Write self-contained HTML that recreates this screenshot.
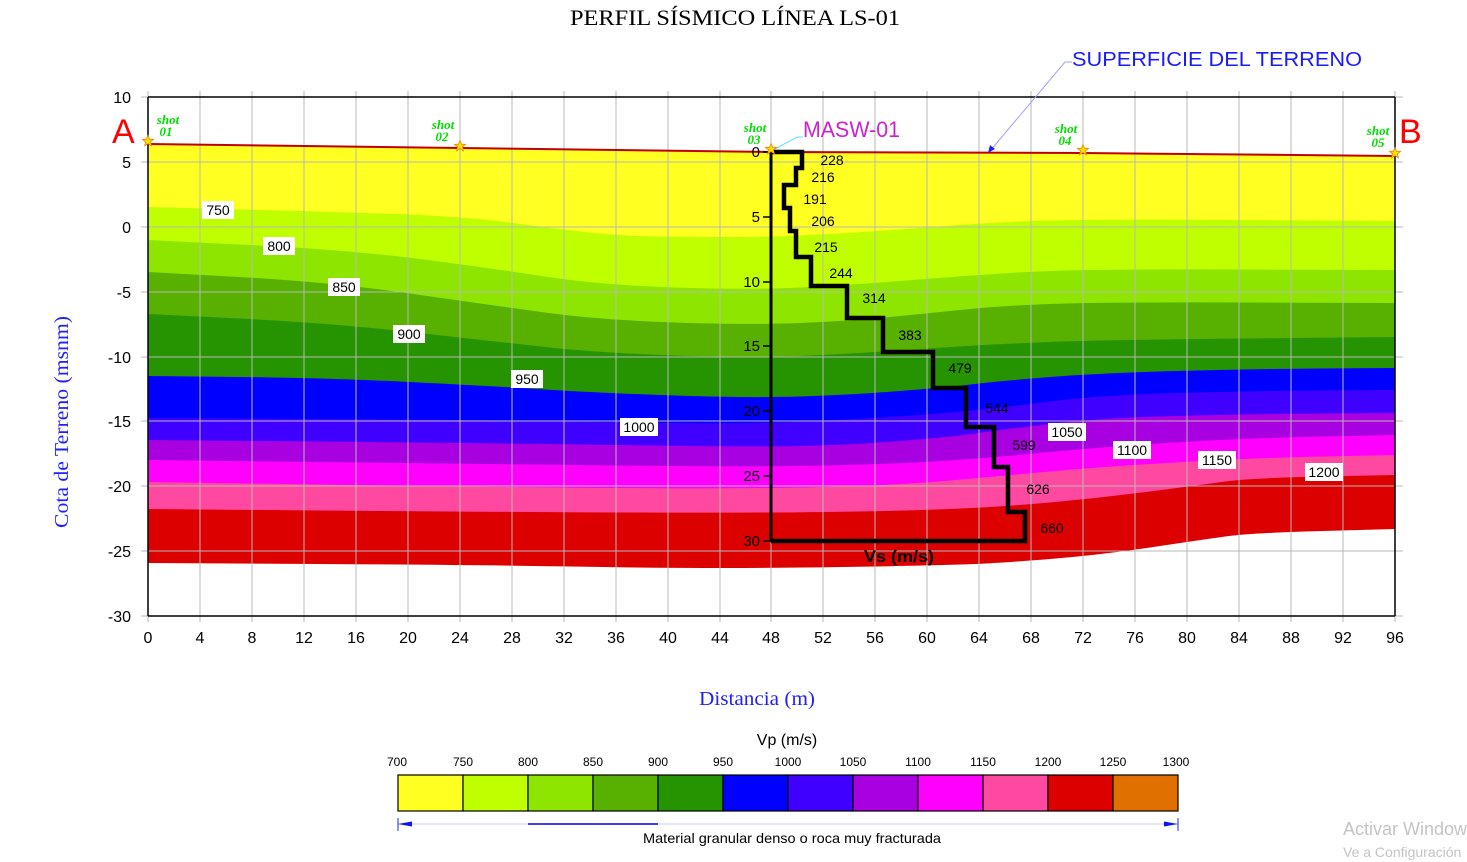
<!DOCTYPE html>
<html><head><meta charset="utf-8"><style>
html,body{margin:0;padding:0;background:#fff;}
svg{display:block;}
text{font-family:"Liberation Sans",Arial,sans-serif;}
text.serif{font-family:"Liberation Serif","Times New Roman",serif;}
.tk text{font-size:16px;fill:#000;}
.lb{font-size:14px;fill:#000;}
.cb text{font-size:12px;fill:#000;}
.shot text{font-family:"Liberation Serif","Times New Roman",serif;font-style:italic;font-weight:bold;font-size:13px;fill:#00e000;}
</style></head><body>
<svg width="1467" height="862" viewBox="0 0 1467 862" xmlns="http://www.w3.org/2000/svg">
<rect width="1467" height="862" fill="#fff"/>

<!-- Title -->
<text class="serif" x="735" y="25" font-size="22" text-anchor="middle" textLength="330" lengthAdjust="spacingAndGlyphs">PERFIL SÍSMICO LÍNEA LS-01</text>

<!-- layers (painter order deep -> shallow) -->
<g stroke="none">
<path fill="#DD0000" d="M148,144 L460,148 L771,152 L1083,153 L1395,156 L1395,529 L1322.5,531 Q1250,533 1225,536.5 Q1200,540 1150,547.5 Q1100,555 1050,559 Q1000,563 975,564 Q950,565 875,566.5 Q800,568 725,568 Q650,568 570,566.5 Q490,565 319,564 L148,563 Z"/>
<path fill="#FF48A0" d="M148,144 L460,148 L771,152 L1083,153 L1395,156 L1395,475 L1322.5,476.5 Q1250,478 1225,481.5 Q1200,485 1150,491.5 Q1100,498 1050,502.5 Q1000,507 950,509 Q900,511 825,512 Q750,513 620,512.5 Q490,512 319,510.5 L148,509 Z"/>
<path fill="#FF00FF" d="M148,144 L460,148 L771,152 L1083,153 L1395,156 L1395,455 L1322.5,456.5 Q1250,458 1175,462.5 Q1100,467 1050,471.5 Q1000,476 950,480.5 Q900,485 825,487 Q750,489 620,488 Q490,487 319,484.5 L148,482 Z"/>
<path fill="#A800E0" d="M148,144 L460,148 L771,152 L1083,153 L1395,156 L1395,435 L1322.5,436.5 Q1250,438 1175,442.5 Q1100,447 1050,452 Q1000,457 950,460.5 Q900,464 825,465.5 Q750,467 620,465.5 Q490,464 319,462 L148,460 Z"/>
<path fill="#4000FF" d="M148,144 L460,148 L771,152 L1083,153 L1395,156 L1395,413 L1322.5,413.5 Q1250,414 1175,416 Q1100,418 1050,424 Q1000,430 975,433.5 Q950,437 900,441 Q850,445 800,446 Q750,447 620,445 Q490,443 319,441.5 L148,440 Z"/>
<path fill="#0000FF" d="M148,144 L460,148 L771,152 L1083,153 L1395,156 L1395,390 L1322.5,390.5 Q1250,391 1175,393 Q1100,395 1050,401.5 Q1000,408 950,412.5 Q900,417 825,420.5 Q750,424 675,423 Q600,422 545,421 Q490,420 319,419 L148,418 Z"/>
<path fill="#259400" d="M148,144 L460,148 L771,152 L1083,153 L1395,156 L1395,368 L1322.5,368.5 Q1250,369 1175,371 Q1100,373 1050,377 Q1000,381 975,384 Q950,387 900,391 Q850,395 800,396.5 Q750,398 675,395.5 Q600,393 545,389.5 Q490,386 410,382 Q330,378 239,377 L148,376 Z"/>
<path fill="#58B000" d="M148,144 L460,148 L771,152 L1083,153 L1395,156 L1395,337 L1247.5,338.5 Q1100,340 1050,342 Q1000,344 975,345.5 Q950,347 900,350.5 Q850,354 800,356 Q750,358 675,355.5 Q600,353 545,347 Q490,341 410,332 Q330,323 239,318.5 L148,314 Z"/>
<path fill="#8EE600" d="M148,144 L460,148 L771,152 L1083,153 L1395,156 L1395,303 L1247.5,302.5 Q1100,302 1050,304 Q1000,306 975,308.5 Q950,311 900,316 Q850,321 800,323 Q750,325 675,322.5 Q600,320 545,312.5 Q490,305 410,293.5 Q330,282 239,277 L148,272 Z"/>
<path fill="#C0FF00" d="M148,144 L460,148 L771,152 L1083,153 L1395,156 L1395,270 L1247.5,269.5 Q1100,269 1050,271 Q1000,273 925,279 Q850,285 800,287.5 Q750,290 675,287.5 Q600,285 545,276.5 Q490,268 420,259 Q350,250 249,245 L148,240 Z"/>
<path fill="#FFFF22" d="M148,144 L460,148 L771,152 L1083,153 L1395,156 L1395,221 L1247.5,220 Q1100,219 1050,220.5 Q1000,222 960,225 Q920,228 885,230.5 Q850,233 810.5,235 Q771,237 735.5,237 Q700,237 660,236.5 Q620,236 585,232 Q550,228 505,222 Q460,216 380,213.5 Q300,211 224,209 L148,207 Z"/>
</g>

<!-- grid -->
<g stroke="#b8b8b8" stroke-width="1">
<line x1="200" y1="97" x2="200" y2="622"/><line x1="252" y1="97" x2="252" y2="622"/><line x1="304" y1="97" x2="304" y2="622"/><line x1="356" y1="97" x2="356" y2="622"/><line x1="408" y1="97" x2="408" y2="622"/><line x1="460" y1="97" x2="460" y2="622"/><line x1="512" y1="97" x2="512" y2="622"/><line x1="564" y1="97" x2="564" y2="622"/><line x1="616" y1="97" x2="616" y2="622"/><line x1="668" y1="97" x2="668" y2="622"/><line x1="720" y1="97" x2="720" y2="622"/><line x1="771" y1="97" x2="771" y2="622"/><line x1="823" y1="97" x2="823" y2="622"/><line x1="875" y1="97" x2="875" y2="622"/><line x1="927" y1="97" x2="927" y2="622"/><line x1="979" y1="97" x2="979" y2="622"/><line x1="1031" y1="97" x2="1031" y2="622"/><line x1="1083" y1="97" x2="1083" y2="622"/><line x1="1135" y1="97" x2="1135" y2="622"/><line x1="1187" y1="97" x2="1187" y2="622"/><line x1="1239" y1="97" x2="1239" y2="622"/><line x1="1291" y1="97" x2="1291" y2="622"/><line x1="1343" y1="97" x2="1343" y2="622"/>
<line x1="148" y1="622" x2="148" y2="616"/><line x1="1395" y1="622" x2="1395" y2="616"/>
<line x1="141" y1="162" x2="1403" y2="162"/><line x1="141" y1="227" x2="1403" y2="227"/><line x1="141" y1="292" x2="1403" y2="292"/><line x1="141" y1="357" x2="1403" y2="357"/><line x1="141" y1="421" x2="1403" y2="421"/><line x1="141" y1="486" x2="1403" y2="486"/><line x1="141" y1="551" x2="1403" y2="551"/>
<line x1="141" y1="97" x2="148" y2="97"/><line x1="141" y1="616" x2="148" y2="616"/><line x1="1395" y1="97" x2="1403" y2="97"/><line x1="1395" y1="616" x2="1403" y2="616"/>
</g>
<!-- top tick marks -->
<g stroke="#b8b8b8" stroke-width="1">
<line x1="148" y1="91" x2="148" y2="97"/><line x1="200" y1="91" x2="200" y2="97"/><line x1="252" y1="91" x2="252" y2="97"/><line x1="304" y1="91" x2="304" y2="97"/><line x1="356" y1="91" x2="356" y2="97"/><line x1="408" y1="91" x2="408" y2="97"/><line x1="460" y1="91" x2="460" y2="97"/><line x1="512" y1="91" x2="512" y2="97"/><line x1="564" y1="91" x2="564" y2="97"/><line x1="616" y1="91" x2="616" y2="97"/><line x1="668" y1="91" x2="668" y2="97"/><line x1="720" y1="91" x2="720" y2="97"/><line x1="771" y1="91" x2="771" y2="97"/><line x1="823" y1="91" x2="823" y2="97"/><line x1="875" y1="91" x2="875" y2="97"/><line x1="927" y1="91" x2="927" y2="97"/><line x1="979" y1="91" x2="979" y2="97"/><line x1="1031" y1="91" x2="1031" y2="97"/><line x1="1083" y1="91" x2="1083" y2="97"/><line x1="1135" y1="91" x2="1135" y2="97"/><line x1="1187" y1="91" x2="1187" y2="97"/><line x1="1239" y1="91" x2="1239" y2="97"/><line x1="1291" y1="91" x2="1291" y2="97"/><line x1="1343" y1="91" x2="1343" y2="97"/><line x1="1395" y1="91" x2="1395" y2="97"/>
</g>

<!-- axes frame -->
<g stroke="#000" stroke-width="1.5" fill="none">
<line x1="148" y1="97" x2="1395" y2="97"/>
<line x1="148" y1="616" x2="1395" y2="616"/>
<line x1="148" y1="97" x2="148" y2="616"/>
<line x1="1395" y1="97" x2="1395" y2="616"/>
</g>

<!-- terrain surface -->
<polyline points="148,144 460,148 771,152 1083,153 1395,156" fill="none" stroke="#c00000" stroke-width="2"/>

<!-- y tick labels -->
<g class="tk" text-anchor="end">
<text x="131" y="103">10</text><text x="131" y="168">5</text><text x="131" y="233">0</text><text x="131" y="298">-5</text><text x="131" y="363">-10</text><text x="131" y="427">-15</text><text x="131" y="492">-20</text><text x="131" y="557">-25</text><text x="131" y="622">-30</text>
</g>
<!-- x tick labels -->
<g class="tk" text-anchor="middle">
<text x="148" y="643">0</text><text x="200" y="643">4</text><text x="252" y="643">8</text><text x="304" y="643">12</text><text x="356" y="643">16</text><text x="408" y="643">20</text><text x="460" y="643">24</text><text x="512" y="643">28</text><text x="564" y="643">32</text><text x="616" y="643">36</text><text x="668" y="643">40</text><text x="720" y="643">44</text><text x="771" y="643">48</text><text x="823" y="643">52</text><text x="875" y="643">56</text><text x="927" y="643">60</text><text x="979" y="643">64</text><text x="1031" y="643">68</text><text x="1083" y="643">72</text><text x="1135" y="643">76</text><text x="1187" y="643">80</text><text x="1239" y="643">84</text><text x="1291" y="643">88</text><text x="1343" y="643">92</text><text x="1395" y="643">96</text>
</g>

<!-- axis titles -->
<text class="serif" x="757" y="705" font-size="20" fill="#2020ff" text-anchor="middle" textLength="116" lengthAdjust="spacingAndGlyphs">Distancia (m)</text>
<text class="serif" transform="translate(68,422) rotate(-90)" font-size="20" fill="#2020ff" text-anchor="middle" textLength="212" lengthAdjust="spacingAndGlyphs">Cota de Terreno (msnm)</text>

<!-- contour labels -->
<g>
<rect x="202" y="201" width="32" height="18" fill="#fff"/><text class="lb" x="218" y="215" text-anchor="middle">750</text>
<rect x="263" y="237" width="32" height="18" fill="#fff"/><text class="lb" x="279" y="251" text-anchor="middle">800</text>
<rect x="328" y="278" width="32" height="18" fill="#fff"/><text class="lb" x="344" y="292" text-anchor="middle">850</text>
<rect x="393" y="325" width="32" height="18" fill="#fff"/><text class="lb" x="409" y="339" text-anchor="middle">900</text>
<rect x="511" y="370" width="32" height="18" fill="#fff"/><text class="lb" x="527" y="384" text-anchor="middle">950</text>
<rect x="620" y="418" width="38" height="18" fill="#fff"/><text class="lb" x="639" y="432" text-anchor="middle">1000</text>
<rect x="1048" y="423" width="38" height="18" fill="#fff"/><text class="lb" x="1067" y="437" text-anchor="middle">1050</text>
<rect x="1113" y="441" width="38" height="18" fill="#fff"/><text class="lb" x="1132" y="455" text-anchor="middle">1100</text>
<rect x="1198" y="451" width="38" height="18" fill="#fff"/><text class="lb" x="1217" y="465" text-anchor="middle">1150</text>
<rect x="1305" y="463" width="38" height="18" fill="#fff"/><text class="lb" x="1324" y="477" text-anchor="middle">1200</text>
</g>

<!-- MASW profile -->
<line x1="771" y1="151" x2="771" y2="542" stroke="#000" stroke-width="3"/>
<g stroke="#000" stroke-width="1.5">
<line x1="763" y1="152" x2="771" y2="152"/><line x1="763" y1="217" x2="771" y2="217"/><line x1="763" y1="282" x2="771" y2="282"/><line x1="763" y1="346" x2="771" y2="346"/><line x1="763" y1="411" x2="771" y2="411"/><line x1="763" y1="476" x2="771" y2="476"/><line x1="763" y1="541" x2="771" y2="541"/>
</g>
<g font-size="15" text-anchor="end" fill="#000">
<text x="760" y="157">0</text><text x="760" y="222">5</text><text x="760" y="287">10</text><text x="760" y="351">15</text><text x="760" y="416">20</text><text x="760" y="481">25</text><text x="760" y="546">30</text>
</g>
<polyline fill="none" stroke="#000" stroke-width="4.5" stroke-linejoin="miter" points="771,152 802,152 802,168 796,168 796,185 784,185 784,208 790,208 790,231 796,231 796,257 811,257 811,286 847,286 847,318 883,318 883,352 933,352 933,388 966,388 966,427 994,427 994,467 1008,467 1008,512 1025,512 1025,541 771,541"/>
<g class="lb" font-size="15" text-anchor="middle">
<text x="832" y="165">228</text><text x="823" y="182">216</text><text x="815" y="204">191</text><text x="823" y="226">206</text><text x="826" y="252">215</text><text x="841" y="278">244</text><text x="874" y="303">314</text><text x="910" y="340">383</text><text x="960" y="373">479</text><text x="997" y="413">544</text><text x="1024" y="450">599</text><text x="1038" y="494">626</text><text x="1052" y="533">660</text>
</g>
<text x="899" y="562" font-size="17" font-weight="bold" text-anchor="middle" textLength="70" lengthAdjust="spacingAndGlyphs">Vs (m/s)</text>

<!-- MASW label & leader -->
<polyline points="775,149 797,137 803,137" fill="none" stroke="#66e0ff" stroke-width="1"/>
<text x="803" y="137" font-size="22" fill="#cc22cc" textLength="97" lengthAdjust="spacingAndGlyphs">MASW-01</text>

<!-- SUPERFICIE label & leader -->
<polyline points="1072,62 1065,62 990,151" fill="none" stroke="#a0a0ff" stroke-width="1"/>
<polygon points="988,153 990,145 995,149" fill="#2020ff"/>
<text x="1072" y="66" font-size="20" fill="#1a1aff" textLength="290" lengthAdjust="spacingAndGlyphs">SUPERFICIE DEL TERRENO</text>

<!-- A / B -->
<text x="112" y="143" font-size="34" fill="#ff0000">A</text>
<text x="1399" y="143" font-size="34" fill="#ff0000">B</text>

<!-- shots -->
<g class="shot" text-anchor="middle">
<text x="168" y="124">shot</text><text x="166" y="136">01</text>
<text x="443" y="129">shot</text><text x="442" y="141">02</text>
<text x="755" y="132">shot</text><text x="754" y="144">03</text>
<text x="1066" y="133">shot</text><text x="1065" y="145">04</text>
<text x="1378" y="135">shot</text><text x="1378" y="147">05</text>
</g>
<g fill="#ffe000" stroke="#f08000" stroke-width="0.8">
<polygon transform="translate(148,141)" points="0,-5.5 1.5,-1.8 5.5,-1.6 2.4,0.9 3.4,4.8 0,2.6 -3.4,4.8 -2.4,0.9 -5.5,-1.6 -1.5,-1.8"/>
<polygon transform="translate(460,146)" points="0,-5.5 1.5,-1.8 5.5,-1.6 2.4,0.9 3.4,4.8 0,2.6 -3.4,4.8 -2.4,0.9 -5.5,-1.6 -1.5,-1.8"/>
<polygon transform="translate(771,149)" points="0,-5.5 1.5,-1.8 5.5,-1.6 2.4,0.9 3.4,4.8 0,2.6 -3.4,4.8 -2.4,0.9 -5.5,-1.6 -1.5,-1.8"/>
<polygon transform="translate(1083,150)" points="0,-5.5 1.5,-1.8 5.5,-1.6 2.4,0.9 3.4,4.8 0,2.6 -3.4,4.8 -2.4,0.9 -5.5,-1.6 -1.5,-1.8"/>
<polygon transform="translate(1395,153)" points="0,-5.5 1.5,-1.8 5.5,-1.6 2.4,0.9 3.4,4.8 0,2.6 -3.4,4.8 -2.4,0.9 -5.5,-1.6 -1.5,-1.8"/>
</g>

<!-- Colorbar -->
<text x="787" y="745" font-size="16" text-anchor="middle">Vp (m/s)</text>
<g class="cb" text-anchor="middle">
<text x="397" y="766">700</text><text x="463" y="766">750</text><text x="528" y="766">800</text><text x="593" y="766">850</text><text x="658" y="766">900</text><text x="723" y="766">950</text><text x="788" y="766">1000</text><text x="853" y="766">1050</text><text x="918" y="766">1100</text><text x="983" y="766">1150</text><text x="1048" y="766">1200</text><text x="1113" y="766">1250</text><text x="1176" y="766">1300</text>
</g>
<g stroke="#000" stroke-width="1.2">
<rect x="398" y="775" width="65" height="36" fill="#FFFF22"/>
<rect x="463" y="775" width="65" height="36" fill="#C0FF00"/>
<rect x="528" y="775" width="65" height="36" fill="#8EE600"/>
<rect x="593" y="775" width="65" height="36" fill="#58B000"/>
<rect x="658" y="775" width="65" height="36" fill="#259400"/>
<rect x="723" y="775" width="65" height="36" fill="#0000FF"/>
<rect x="788" y="775" width="65" height="36" fill="#4000FF"/>
<rect x="853" y="775" width="65" height="36" fill="#A800E0"/>
<rect x="918" y="775" width="65" height="36" fill="#FF00FF"/>
<rect x="983" y="775" width="65" height="36" fill="#FF48A0"/>
<rect x="1048" y="775" width="65" height="36" fill="#DD0000"/>
<rect x="1113" y="775" width="65" height="36" fill="#E07000"/>
</g>
<line x1="398" y1="824" x2="1178" y2="824" stroke="#c8c8ff" stroke-width="1"/>
<line x1="528" y1="824" x2="658" y2="824" stroke="#0000e0" stroke-width="1.5"/>
<line x1="398" y1="818" x2="398" y2="831" stroke="#2020ff" stroke-width="1"/>
<line x1="1178" y1="818" x2="1178" y2="831" stroke="#2020ff" stroke-width="1"/>
<polygon points="398,824 412,821.5 412,826.5" fill="#1010ff"/>
<polygon points="1178,824 1164,821.5 1164,826.5" fill="#1010ff"/>
<text x="792" y="843" font-size="14" text-anchor="middle" textLength="298" lengthAdjust="spacingAndGlyphs">Material granular denso o roca muy fracturada</text>

<!-- watermark -->
<text x="1343" y="835" font-size="18" fill="#c4c4c4">Activar Windows</text>
<text x="1343" y="857" font-size="14" fill="#c4c4c4">Ve a Configuración</text>
</svg>
</body></html>
